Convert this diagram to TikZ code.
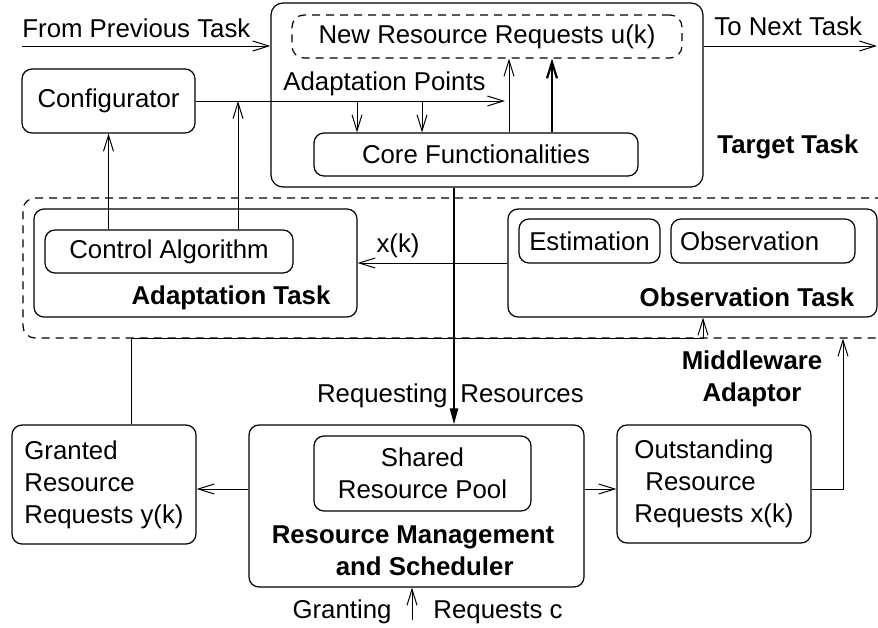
\documentclass[tikz,border=0pt]{standalone}
\usepackage{fontspec}
\setmainfont{Liberation Sans}
\usetikzlibrary{arrows.meta}

\begin{document}
\begin{tikzpicture}[
  x=0.5pt, y=-0.5pt,
  font=\fontsize{12.9}{16}\selectfont,
  box/.style={draw=black, line width=0.6pt, rounded corners=5pt, inner sep=0pt},
  bigbox/.style={box, rounded corners=6pt},
  dbox/.style={box, dash pattern=on 4pt off 3pt, rounded corners=6pt},
  arr/.style={line width=0.5pt, -{Straight Barb[length=8pt,width=5pt]}},
  thickarr/.style={line width=1.1pt, -{Straight Barb[length=8pt,width=5pt]}},
  reqarr/.style={line width=1.1pt, -{Triangle[length=8pt,width=4pt]}},
  lbl/.style={inner sep=0pt},
  blbl/.style={inner sep=0pt, font=\fontsize{12.9}{16}\selectfont\bfseries}
]
  \clip (0,0) rectangle (878,627);

  % Target Task
  \node[bigbox, minimum width=216pt, minimum height=92pt] (target) at (487,95) {};
  \node[dbox, minimum width=195pt, minimum height=21.5pt] (newreq) at (487,36.5) {New Resource Requests u(k)};
  \node[box, minimum width=162pt, minimum height=21.5pt] (core) at (476,154.5) {Core Functionalities};
  \node[lbl, anchor=base west] (points) at (283,90) {Adaptation Points};
  \node[blbl, anchor=west] (targetlbl) at (717,147) {Target Task};
  \node[box, minimum width=86.5pt, minimum height=32pt] (config) at (108.5,101) {Configurator};

  % Middleware Adaptor
  \node[dbox, minimum width=436pt, minimum height=70pt] (mw) at (459,268) {};
  \node[box, minimum width=161.5pt, minimum height=54pt] (adapt) at (195.5,263) {};
  \node[box, minimum width=124pt, minimum height=21.5pt] (ctrl) at (169,251.5) {Control Algorithm};
  \node[blbl] (adaptlbl) at (231,298) {Adaptation Task};
  \node[box, minimum width=184.5pt, minimum height=54pt] (obs) at (692.5,263) {};
  \node[box, minimum width=70.5pt, minimum height=22pt] (est) at (589.5,241) {Estimation};
  \node[box, minimum width=92pt, minimum height=22pt, inner xsep=4.5pt, text width=83pt, align=left] (obsv) at (763,241) {Observation};
  \node[blbl] (obslbl) at (747,297) {Observation Task};
  \node[blbl, align=center] (mwlbl) at (752,379) {Middleware\\Adaptor};

  % Resource Management and Scheduler
  \node[box, minimum width=92pt, minimum height=59.5pt, align=left] (granted) at (104,484.5) {Granted\\Resource\\Requests y(k)};
  \node[box, minimum width=167.5pt, minimum height=81pt] (rm) at (416.5,506) {};
  \node[box, minimum width=108.5pt, minimum height=37.5pt, align=center] (pool) at (422.5,473.5) {Shared\\Resource Pool};
  \node[blbl, align=left] (rmlbl) at (413,551) {Resource Management\\\hspace*{32pt}and Scheduler};
  \node[box, minimum width=97pt, minimum height=59pt, align=left] (outst) at (714,484) {Outstanding\\\hspace*{5.5pt}Resource\\Requests x(k)};

  % Texts on connectors
  \node[lbl, anchor=base west] (prevlbl) at (22,37) {From Previous Task};
  \node[lbl, anchor=base west] (nextlbl) at (714,35) {To Next Task};
  \node[lbl, anchor=base] (xklbl) at (398,252) {x(k)};
  \node[lbl, anchor=base east] (reqlbl) at (448,402) {Requesting};
  \node[lbl, anchor=base west] (reslbl) at (460,402) {Resources};
  \node[lbl, anchor=base] (grantlbl) at (342,618) {Granting};
  \node[lbl, anchor=base] (creqlbl) at (498,618) {Requests c};

  \coordinate (prev) at (22,46);
  \coordinate (next) at (877,46);
  \coordinate (ap) at (505,101);
  \coordinate (grant) at (412,620);

  % Connectors
  \draw[arr] (prev) -- (prev -| target.west);
  \draw[arr] (target.east |- next) -- (next);
  \draw[arr] (config.east) -- (ap);
  \foreach \x in {357,422}
    \draw[arr] (\x,101) -- (core.north -| \x,0);
  \draw[arr] (core.north -| 509,0) -- (newreq.south -| 509,0);
  \draw[thickarr] (core.north -| 552,0) -- (newreq.south -| 552,0);
  \draw[arr] (ctrl.north -| config.south) -- (config.south);
  \draw[arr] (ctrl.north -| 238,0) -- (238,101);
  \draw[arr] (obs.west) -- (adapt.east);
  \draw[reqarr] (target.south -| 454,0) -- (rm.north -| 454,0);
  \draw[arr] (granted.north -| 131,0) -- (131,338) -- (703,338) -- (obs.south -| 703,0);
  \draw[arr] (rm.west |- 0,489) -- (granted.east |- 0,489);
  \draw[arr] (rm.east |- 0,489) -- (outst.west |- 0,489);
  \draw[arr] (outst.east |- 0,489) -- (843,489) -- (843,0 |- mw.south);
  \draw[arr] (grant) -- (rm.south -| grant);
\end{tikzpicture}
\end{document}
